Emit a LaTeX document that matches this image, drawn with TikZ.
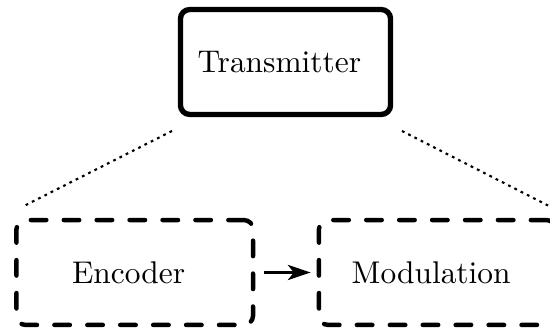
\documentclass[tikz,border=0pt]{standalone}
\usetikzlibrary{arrows.meta}
\begin{document}
\begin{tikzpicture}[x=0.328pt,y=-0.328pt,
  font=\fontsize{10.3}{12}\selectfont,
  solidbox/.style={draw,line width=1.75pt,rounded corners=3pt,minimum width=68.9pt,minimum height=34.4pt,inner sep=0pt},
  dashbox/.style={draw,line width=1.45pt,rounded corners=3pt,line cap=round,dash pattern=on 5.1pt off 5.7pt,minimum width=77.6pt,minimum height=34.4pt,inner sep=0pt},
  zoomline/.style={line width=0.7pt,dash pattern=on 0.9pt off 1.4pt},
  flow/.style={line width=0.85pt,-{Stealth[length=7.5pt,width=5pt,inset=2pt]}}]
\useasboundingbox (0,0) rectangle (550,328);
\node[solidbox] (tx) at (285.5,62) {Transmitter\hspace*{4pt}};
\node[dashbox] (enc) at (134.75,272.5) {Encoder\hspace*{4pt}};
\node[dashbox] (mod) at (437.25,272.5) {Modulation\hspace*{4pt}};
\coordinate (l1) at (172,131);
\coordinate (l2) at (22,207);
\coordinate (r1) at (402,131);
\coordinate (r2) at (549,206);
\draw[zoomline] (l1) -- (l2);
\draw[zoomline] (r1) -- (r2);
\draw[flow] ([xshift=3pt]enc.east) -- ([xshift=-2pt]mod.west);
\end{tikzpicture}
\end{document}
